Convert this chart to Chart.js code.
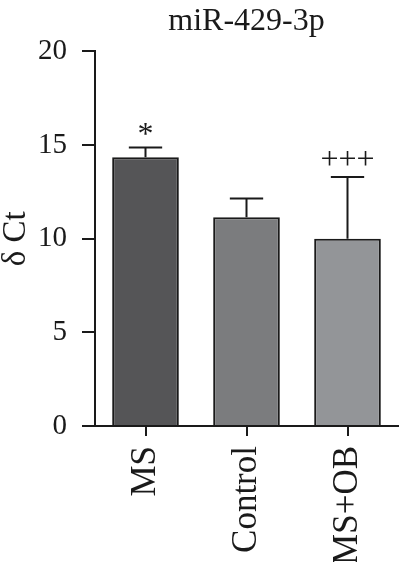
<!DOCTYPE html>
<html>
<head>
<meta charset="utf-8">
<script src="https://cdn.jsdelivr.net/npm/chart.js@4/dist/chart.umd.min.js"></script>
<style>
  html, body { margin: 0; padding: 0; background: #ffffff; }
  #wrap { width: 401px; height: 562px; }
</style>
</head>
<body>
<div id="wrap"><canvas id="chart" width="401" height="562"></canvas></div>
<script>
// Data
const groups = ['MS', 'Control', 'MS+OB'];
const deltaCt = [14.35, 11.15, 10.0];
const errUp = [0.52, 1.0, 3.3];
const marks = ['*', '', '+++'];
const barColors = ['#555557', '#7b7c7e', '#939598'];
const yTicks = [0, 5, 10, 15, 20];

const ink = '#1a1a1a';
const serif = "'Liberation Serif', 'Times New Roman', serif";

// Upper error bars + significance marks, positioned through the scales
const errorBars = {
    id: 'errorBars',
    afterDatasetsDraw(chart) {
        const ctx = chart.ctx;
        const yScale = chart.scales.y;
        const meta = chart.getDatasetMeta(0);
        ctx.save();
        ctx.strokeStyle = ink;
        ctx.lineWidth = 2;
        meta.data.forEach((bar, i) => {
            const yTop = yScale.getPixelForValue(deltaCt[i] + errUp[i]);
            const capHalf = bar.width / 4;
            ctx.beginPath();
            ctx.moveTo(bar.x, bar.y);
            ctx.lineTo(bar.x, yTop);
            ctx.moveTo(bar.x - capHalf, yTop);
            ctx.lineTo(bar.x + capHalf, yTop);
            ctx.stroke();

            if (marks[i]) {
                ctx.font = '32px ' + serif;
                ctx.fillStyle = ink;
                ctx.textAlign = 'center';
                ctx.textBaseline = 'alphabetic';
                const m = ctx.measureText(marks[i]);
                const centre = yTop - 18;
                const base = centre + (m.actualBoundingBoxAscent - m.actualBoundingBoxDescent) / 2;
                ctx.fillText(marks[i], bar.x, base);
            }
        });
        ctx.restore();
    }
};

new Chart(document.getElementById('chart'), {
    type: 'bar',
    data: {
        labels: groups,
        datasets: [{
            data: deltaCt,
            backgroundColor: barColors,
            borderColor: ink,
            borderWidth: 2,
            borderSkipped: 'start',
            barPercentage: 0.66,
            categoryPercentage: 1
        }]
    },
    options: {
        responsive: false,
        animation: false,
        layout: {
            padding: { top: 2, right: 3, left: 0, bottom: 0 }
        },
        plugins: {
            legend: { display: false },
            tooltip: { enabled: false },
            title: {
                display: true,
                text: 'miR-429-3p',
                fullSize: false,
                color: ink,
                font: { family: serif, size: 32, weight: 'normal' },
                padding: { top: 0, bottom: 11 }
            }
        },
        scales: {
            y: {
                min: 0,
                max: 20,
                afterBuildTicks: (scale) => {
                    scale.ticks = yTicks.map(v => ({ value: v }));
                },
                afterFit: (scale) => { scale.width = 95; },
                border: { color: ink, width: 2 },
                grid: {
                    drawOnChartArea: false,
                    drawTicks: true,
                    tickLength: 13,
                    color: ink,
                    lineWidth: 2
                },
                ticks: {
                    color: ink,
                    padding: 15,
                    font: { family: serif, size: 29 }
                },
                title: {
                    display: true,
                    text: 'δ Ct',
                    color: ink,
                    padding: 0,
                    font: { family: serif, size: 33, lineHeight: 1 }
                }
            },
            x: {
                afterFit: (scale) => { scale.height = 136; },
                border: { color: ink, width: 2 },
                grid: {
                    offset: false,
                    drawOnChartArea: false,
                    drawTicks: true,
                    tickLength: 10,
                    color: ink,
                    lineWidth: 2
                },
                ticks: {
                    color: ink,
                    padding: 10,
                    autoSkip: false,
                    minRotation: 90,
                    maxRotation: 90,
                    font: { family: serif, size: 35 }
                }
            }
        }
    },
    plugins: [errorBars]
});
</script>
</body>
</html>
